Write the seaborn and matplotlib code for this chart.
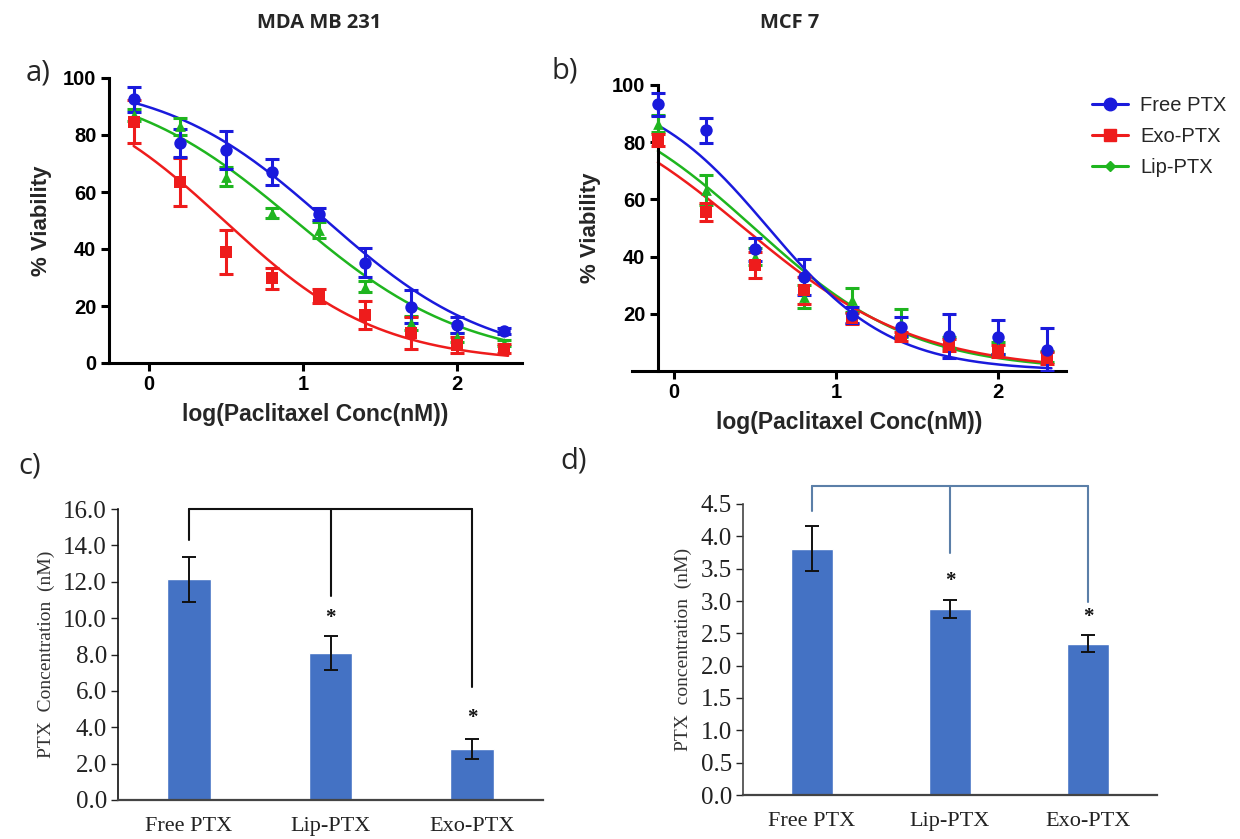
import numpy as np
import pandas as pd
import matplotlib
matplotlib.use("Agg")
import matplotlib.pyplot as plt
import seaborn as sns
from matplotlib.lines import Line2D

# ---------------- data ----------------
log_conc = [-0.1, 0.2, 0.5, 0.8, 1.1, 1.4, 1.7, 2.0, 2.3]
series = ["Free PTX", "Exo-PTX", "Lip-PTX"]

# MDA MB 231 (% viability, mean and SD)
mda_free = [92.6, 77.2, 74.7, 67.1, 52.3, 35.2, 19.8, 13.3, 11.2]
mda_free_err = [4.4, 4.8, 6.8, 4.6, 2.0, 5.2, 5.8, 2.8, 1.0]
mda_exo = [84.7, 63.6, 39.1, 29.7, 23.5, 16.8, 10.4, 6.3, 5.0]
mda_exo_err = [7.5, 8.5, 7.7, 3.8, 2.6, 4.8, 5.6, 2.9, 1.5]
mda_lip = [87.0, 83.0, 65.4, 52.6, 46.7, 26.8, 14.0, 9.0, 7.0]
mda_lip_err = [2.0, 3.0, 3.2, 1.7, 2.9, 1.8, 2.5, 1.5, 1.0]

# MCF 7
mcf_free = [93.2, 84.2, 42.5, 32.9, 19.6, 15.5, 12.2, 12.0, 7.5]
mcf_free_err = [4.1, 4.4, 4.1, 6.4, 2.9, 3.4, 7.6, 6.0, 7.5]
mcf_exo = [80.7, 55.7, 37.0, 28.3, 18.4, 12.0, 9.1, 7.0, 4.5]
mcf_exo_err = [2.0, 3.2, 4.6, 4.7, 2.0, 1.5, 2.0, 2.0, 2.0]
mcf_lip = [86.5, 63.2, 40.0, 26.0, 24.8, 16.8, 10.0, 8.0, 5.0]
mcf_lip_err = [3.0, 5.2, 3.0, 4.0, 4.1, 4.8, 2.0, 2.0, 2.0]

# fitted dose-response parameters (top, bottom, logIC50, hill slope)
mda_fit = {"Free PTX": (100, 0, 1.15, 0.82), "Exo-PTX": (100, 0, 0.486, 0.86), "Lip-PTX": (100, 0, 0.945, 0.78)}
mcf_fit = {"Free PTX": (100, 0, 0.583, 1.15), "Exo-PTX": (100, 0, 0.431, 0.81), "Lip-PTX": (100, 0, 0.494, 0.88)}

# bar charts
bar_groups = ["Free PTX", "Lip-PTX", "Exo-PTX"]
c_values = [12.13, 8.06, 2.83]
c_errors = [1.24, 0.93, 0.55]
c_bracket_top = 16.0
c_bracket_drops = [14.3, 11.2, 6.2]
c_stars = [None, 10.0, 4.5]

d_values = [3.81, 2.88, 2.34]
d_errors = [0.35, 0.14, 0.13]
d_bracket_top = 4.78
d_bracket_drops = [4.39, 3.74, 2.98]
d_stars = [None, 3.31, 2.75]

# ---------------- style ----------------
sns.set_theme(style="ticks")
plt.rcParams["font.family"] = ["Liberation Sans", "DejaVu Sans"]

colors = {"Free PTX": "#1a1adc", "Exo-PTX": "#ee1c1c", "Lip-PTX": "#1fb51f"}
markers = {"Free PTX": "o", "Exo-PTX": "s", "Lip-PTX": "^"}
bar_color = "#4472C4"
SERIF = ["Liberation Serif", "DejaVu Serif"]

fig = plt.figure(figsize=(12.4, 8.39), dpi=100)
W, H = 1240, 839


def ax_px(l, r, t, b):
    return fig.add_axes([l / W, 1 - b / H, (r - l) / W, (b - t) / H])


def logistic(x, top, bottom, c, h):
    return bottom + (top - bottom) / (1 + 10 ** ((x - c) * h))


def dose_panel(ax, vals, errs, fits, ytick_list, yspine_at):
    order = ["Lip-PTX", "Exo-PTX", "Free PTX"]
    xs = np.linspace(-0.1, 2.33, 200)
    for name in order:
        curve = pd.DataFrame({"x": xs, "y": logistic(xs, *fits[name])})
        sns.lineplot(data=curve, x="x", y="y", ax=ax, color=colors[name], lw=1.8, zorder=2)
    for name in order:
        ax.errorbar(log_conc, vals[name], yerr=errs[name], fmt="none", ecolor=colors[name],
                    elinewidth=2.2, capsize=5, capthick=2.2, zorder=3)
        df = pd.DataFrame({"x": log_conc, "y": vals[name]})
        sns.scatterplot(data=df, x="x", y="y", ax=ax, color=colors[name], marker=markers[name],
                        s=80 if name != "Lip-PTX" else 60, edgecolor=colors[name], linewidth=0, zorder=4)
    ax.set_ylim(0, 100)
    ax.set_xlim(-0.26, 2.42)
    ax.set_xticks([0, 1, 2])
    ax.set_yticks(ytick_list)
    ax.spines["left"].set_position(("data", yspine_at))
    for s in ["top", "right"]:
        ax.spines[s].set_visible(False)
    for s in ["left", "bottom"]:
        ax.spines[s].set_linewidth(2.2)
        ax.spines[s].set_color("black")
    ax.tick_params(width=2.2, length=6, labelsize=14.5, colors="black", pad=3)
    for lab in ax.get_xticklabels() + ax.get_yticklabels():
        lab.set_fontweight("bold")
    ax.set_xlabel("log(Paclitaxel Conc(nM))", fontsize=16.5, fontweight="bold", labelpad=6)
    ax.set_ylabel("% Viability", fontsize=16, fontweight="bold", labelpad=8)


# panel a
ax_a = ax_px(109, 522, 78, 363)
dose_panel(ax_a,
           {"Free PTX": mda_free, "Exo-PTX": mda_exo, "Lip-PTX": mda_lip},
           {"Free PTX": mda_free_err, "Exo-PTX": mda_exo_err, "Lip-PTX": mda_lip_err},
           mda_fit, [0, 20, 40, 60, 80, 100], -0.26)

# panel b
ax_b = ax_px(632, 1066, 85, 371)
dose_panel(ax_b,
           {"Free PTX": mcf_free, "Exo-PTX": mcf_exo, "Lip-PTX": mcf_lip},
           {"Free PTX": mcf_free_err, "Exo-PTX": mcf_exo_err, "Lip-PTX": mcf_lip_err},
           mcf_fit, [20, 40, 60, 80, 100], -0.1)
ax_b.spines["left"].set_bounds(0, 100)

# legend
handles = [
    Line2D([0], [0], color=colors["Free PTX"], marker="o", markersize=9, lw=2.2),
    Line2D([0], [0], color=colors["Exo-PTX"], marker="s", markersize=8, lw=2.2),
    Line2D([0], [0], color=colors["Lip-PTX"], marker="D", markersize=5.5, lw=2.2),
]
fig.legend(handles, series, loc="upper left", bbox_to_anchor=(1092 / W, 1 - 96 / H),
           frameon=False, fontsize=14.5, handlelength=1.8, handletextpad=0.6, labelspacing=0.6,
           borderaxespad=0, borderpad=0)

# titles and panel labels
fig.text(319 / W, 1 - 23 / H, "MDA MB 231", ha="center", va="center", fontsize=14.5, fontweight="bold",
         family=["Open Sans", "DejaVu Sans"])
fig.text(790 / W, 1 - 23 / H, "MCF 7", ha="center", va="center", fontsize=14.5, fontweight="bold",
         family=["Open Sans", "DejaVu Sans"])
for lbl, x, y in [("a)", 26, 73), ("b)", 551, 71), ("c)", 18, 466), ("d)", 560, 461)]:
    fig.text(x / W, 1 - y / H, lbl, ha="left", va="center", fontsize=21, family=["Open Sans", "DejaVu Sans"])


def bar_panel(ax, values, errors, ymax, step, ylabel, bracket_top, drops, stars, bracket_color, spine_color):
    df = pd.DataFrame({"group": bar_groups, "value": values})
    sns.barplot(data=df, x="group", y="value", ax=ax, color=bar_color, width=0.31, errorbar=None,
                saturation=1)
    xs = np.arange(len(bar_groups))
    ax.errorbar(xs, values, yerr=errors, fmt="none", ecolor="#111111", elinewidth=1.4, capsize=5, capthick=1.4)
    ax.set_xlim(-0.5, 2.5)
    ax.set_ylim(0, ymax)
    ticks = np.arange(0, ymax + step / 2, step)
    ax.set_yticks(ticks)
    ax.set_yticklabels([f"{t:.1f}" for t in ticks], family=SERIF, fontsize=18)
    ax.set_xticks(xs)
    ax.set_xticklabels(bar_groups, family=SERIF, fontsize=16)
    ax.tick_params(axis="x", length=0, pad=12, colors="#222222")
    ax.tick_params(axis="y", length=5, width=1, colors="#222222", pad=3)
    ax.set_xlabel("")
    ax.set_ylabel(ylabel, family=SERIF, fontsize=14, labelpad=6, color="#333333")
    for s in ["top", "right"]:
        ax.spines[s].set_visible(False)
    ax.spines["bottom"].set_color("#444444")
    ax.spines["bottom"].set_linewidth(1.6)
    ax.spines["left"].set_color(spine_color)
    ax.spines["left"].set_linewidth(1.2)
    # significance bracket
    ax.plot([xs[0], xs[-1]], [bracket_top, bracket_top], color=bracket_color, lw=1.5, clip_on=False)
    for x, dv in zip(xs, drops):
        ax.plot([x, x], [bracket_top, dv], color=bracket_color, lw=1.5, clip_on=False)
    for x, sv in zip(xs, stars):
        if sv is not None:
            ax.text(x, sv, "*", ha="center", va="center", fontsize=15, fontweight="bold",
                    family=SERIF, color="#111111")


ax_c = ax_px(118, 543, 509, 800)
bar_panel(ax_c, c_values, c_errors, 16.0, 2.0, "PTX  Concentration  (nM)",
          c_bracket_top, c_bracket_drops, c_stars, "#111111", "#111111")

ax_d = ax_px(743, 1157, 504, 795)
bar_panel(ax_d, d_values, d_errors, 4.5, 0.5, "PTX  concentration  (nM)",
          d_bracket_top, d_bracket_drops, d_stars, "#5b7fa8", "#444444")

fig.savefig("out.png", dpi=100)
